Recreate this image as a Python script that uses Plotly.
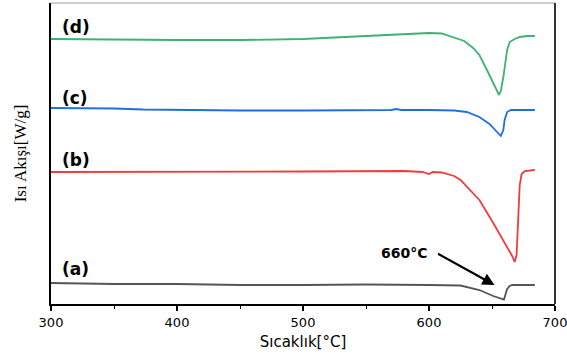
import plotly.graph_objects as go

# Temperature (°C) and heat-flow (arbitrary offset units) for each sample
T_d = [300, 330, 350, 400, 450, 500, 550, 580, 600, 610, 619, 628, 635, 640, 646, 651, 654, 655.6, 657, 659, 662, 664, 668, 672, 678, 684]
Y_d = [265, 265, 264.5, 264, 264, 265, 268, 270, 271, 270.5, 267, 263, 256, 249, 234, 221, 214, 209, 213, 227, 254, 262, 265, 267, 268, 268]

T_c = [300, 350, 373, 400, 450, 500, 550, 570, 574, 578, 600, 620, 630, 640, 648, 655, 657, 659, 660, 662, 665, 684]
Y_c = [196, 195.5, 194.5, 194, 193.5, 193.5, 194, 194, 195, 194, 194, 193.5, 192, 187, 180, 171, 168, 174, 184, 192, 194, 194]

T_b = [300, 400, 500, 580, 595, 600, 603, 610, 620, 625, 640, 651, 662, 666, 668, 669.5, 671, 672, 673.5, 676, 684]
Y_b = [132, 132, 132.5, 133, 132, 130, 132, 131.5, 128, 124, 104, 81, 57, 48, 42, 49, 91, 119, 130, 133, 134]

T_a = [300, 350, 400, 450, 500, 550, 600, 625, 640, 651, 659.5, 660.5, 662, 664, 666, 670, 684]
Y_a = [21, 20, 20, 19, 19, 19.5, 19, 18.5, 14, 8, 4.5, 8, 15, 18, 19, 19, 19]

labels = ["(d)", "(c)", "(b)", "(a)"]
label_y = [277, 206, 144, 35]
colors = ["#3cb371", "#1f6fe0", "#f03c3c", "#555555"]

x_ticks = [300, 400, 500, 600, 700]

fig = go.Figure()
for T, Y, c in [(T_d, Y_d, colors[0]), (T_c, Y_c, colors[1]), (T_b, Y_b, colors[2]), (T_a, Y_a, colors[3])]:
    fig.add_trace(go.Scatter(x=T, y=Y, mode="lines", line=dict(color=c, width=1.8),
                             showlegend=False, hoverinfo="skip"))

for lab, ly in zip(labels, label_y):
    fig.add_annotation(x=307, y=ly, text="<b>" + lab + "</b>", showarrow=False, xanchor="left", yanchor="middle",
                       font=dict(family="DejaVu Sans", size=17, color="black"))

fig.add_annotation(x=652, y=19, ax=606, ay=51, axref="x", ayref="y",
                   text="", showarrow=True, arrowhead=2, arrowsize=1.1, arrowwidth=2.2, arrowcolor="black",
                   xref="x", yref="y")
fig.add_annotation(x=580.5, y=51, text="<b>660°C</b>", showarrow=False, xanchor="center", yanchor="middle",
                   font=dict(family="DejaVu Sans", size=14, color="black"))

# frame: light top edge, dark right edge
fig.add_shape(type="line", xref="paper", yref="paper", x0=0, x1=1, y0=1, y1=1,
              line=dict(color="#9a9a9a", width=1))
fig.add_shape(type="line", xref="paper", yref="paper", x0=1, x1=1, y0=0, y1=1,
              line=dict(color="#333333", width=2))

fig.update_layout(
    width=567, height=361,
    margin=dict(l=51, r=12, t=3, b=57),
    plot_bgcolor="white", paper_bgcolor="white",
    xaxis=dict(range=[300, 700], tickvals=x_ticks, ticks="outside", ticklen=5, tickwidth=1.5, tickcolor="black",
               showline=True, linecolor="black", linewidth=1.8, mirror=False, showgrid=False, zeroline=False,
               automargin=False, ticklabeloverflow="allow",
               minor=dict(ticks="outside", dtick=50, ticklen=3, tickwidth=1.2, tickcolor="black"),
               tickfont=dict(family="DejaVu Sans", size=13, color="black"),
               title=dict(text="Sıcaklık[°C]", font=dict(family="DejaVu Sans", size=15, color="black"), standoff=8)),
    yaxis=dict(range=[0, 301], showticklabels=False, ticks="", showline=True, linecolor="black", linewidth=1.8,
               mirror=False, showgrid=False, zeroline=False, automargin=False,
               title=dict(text="Isı Akışı[W/g]", font=dict(family="Liberation Serif", size=17, color="black"), standoff=18)),
)

fig.write_html("out.html", config={"displayModeBar": False},
               post_script="document.body.style.margin='0';document.body.style.overflow='hidden';")
